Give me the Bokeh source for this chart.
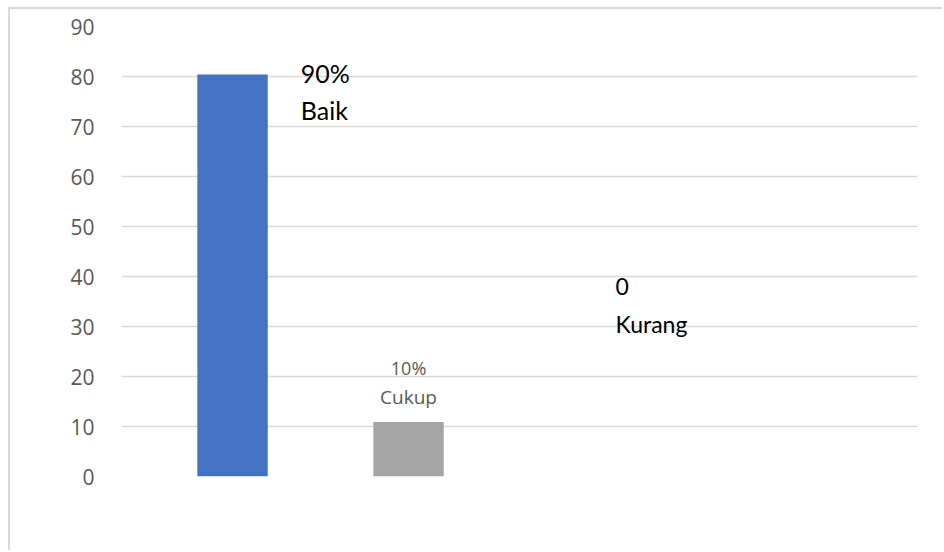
from bokeh.plotting import figure
from bokeh.models import Range1d, ColumnDataSource, FixedTicker, Label
from bokeh.embed import file_html
from bokeh.resources import INLINE

# ---- data ----
categories = ["Baik", "Cukup", "Kurang"]
values = [80.4, 10.9, 0]
percent_labels = ["90%", "10%", "0"]
bar_colors = ["#4472C4", "#A5A5A5", "#A5A5A5"]
y_ticks = [0, 10, 20, 30, 40, 50, 60, 70, 80, 90]

positions = list(range(len(categories)))
src = ColumnDataSource(dict(x=positions, top=values, color=bar_colors, cat=categories))

p = figure(width=934, height=543, output_backend="svg", toolbar_location=None,
           x_range=Range1d(-0.631, 3.892), y_range=Range1d(0, 90),
           min_border_left=111, min_border_right=27, min_border_top=17, min_border_bottom=76,
           margin=(7, 0, 0, 8))
p.styles = {"border-left": "2px solid #d9d9d9", "border-top": "2px solid #d9d9d9"}
p.outline_line_color = None
p.background_fill_color = "white"
p.border_fill_color = "white"

p.vbar(x="x", top="top", bottom=0, width=0.4, color="color", source=src, line_color=None)

p.xaxis.visible = False
p.xgrid.visible = False
p.ygrid.grid_line_color = "#d9d9d9"
p.ygrid.grid_line_width = 1.5

ax = p.yaxis[0]
ax.ticker = FixedTicker(ticks=y_ticks)
ax.axis_line_color = None
ax.major_tick_line_color = None
ax.minor_tick_line_color = None
ax.major_label_text_font = "Open Sans"
ax.major_label_text_font_size = "21px"
ax.major_label_text_color = "#595959"
ax.major_label_standoff = 21

# data labels (moved manually in the original); offsets in screen px from bar top
p.add_layout(Label(x=positions[0] + 0.2, y=values[0], x_offset=33, y_offset=2,
                   text=percent_labels[0], text_font="Lato", text_font_size="25px",
                   text_color="black", text_align="left", text_baseline="middle"))
p.add_layout(Label(x=positions[0] + 0.2, y=values[0], x_offset=33, y_offset=-35,
                   text=categories[0], text_font="Lato", text_font_size="25px",
                   text_color="black", text_align="left", text_baseline="middle"))
p.add_layout(Label(x=positions[1], y=values[1], y_offset=54,
                   text=percent_labels[1], text_font="Open Sans", text_font_size="18px",
                   text_color="#595959", text_align="center", text_baseline="middle"))
p.add_layout(Label(x=positions[1], y=values[1], y_offset=25,
                   text=categories[1], text_font="Open Sans", text_font_size="19px",
                   text_color="#595959", text_align="center", text_baseline="middle"))
p.add_layout(Label(x=positions[2], y=values[2], x_offset=31, y_offset=190,
                   text=percent_labels[2], text_font="Lato", text_font_size="23px",
                   text_color="black", text_align="left", text_baseline="middle"))
p.add_layout(Label(x=positions[2], y=values[2], x_offset=31, y_offset=153,
                   text=categories[2], text_font="Lato", text_font_size="23px",
                   text_color="black", text_align="left", text_baseline="middle"))

open("out.html", "w").write(file_html(p, INLINE))
